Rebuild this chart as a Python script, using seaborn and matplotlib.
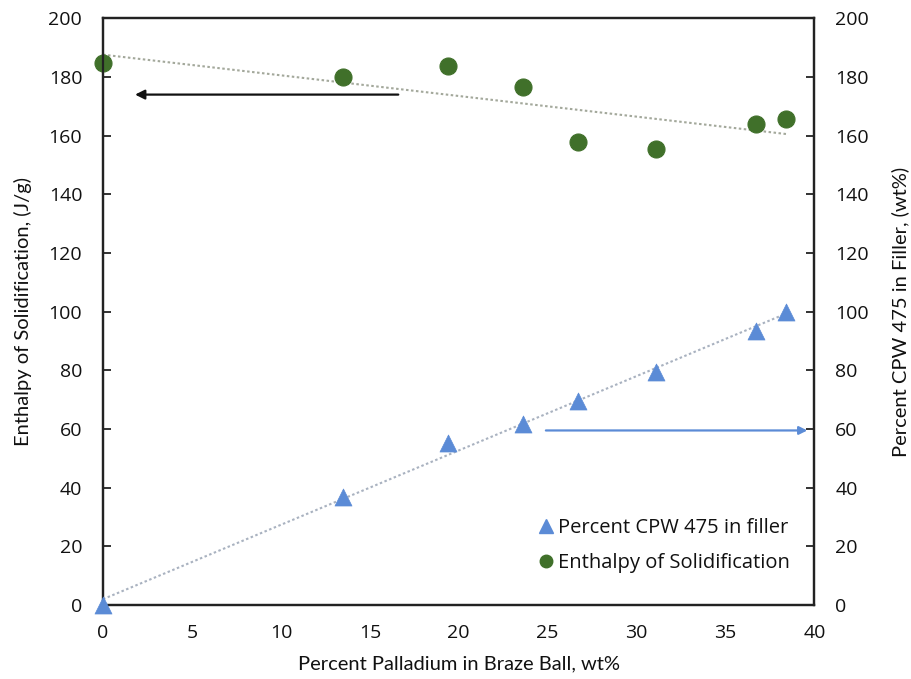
import numpy as np
import pandas as pd
import matplotlib
matplotlib.use("Agg")
import matplotlib.pyplot as plt
import seaborn as sns

# Measured data
pd_wt = [0.0, 13.5, 19.4, 23.6, 26.7, 31.1, 36.7, 38.4]
enthalpy = [184.7, 180.0, 183.6, 176.5, 157.8, 155.4, 163.9, 165.6]
cpw475 = [0.0, 36.8, 55.2, 61.7, 69.6, 79.5, 93.4, 99.8]

x_label = "Percent Palladium in Braze Ball, wt%"
left_label = "Enthalpy of Solidification, (J/g)"
right_label = "Percent CPW 475 in Filler, (wt%)"
cpw_name = "Percent CPW 475 in filler"
enth_name = "Enthalpy of Solidification"

green = "#40702a"
blue = "#5b8bd6"

sns.set_theme(style="white")
plt.rcParams["font.family"] = ["Open Sans", "DejaVu Sans"]

df = pd.DataFrame({"pd": pd_wt, "enthalpy": enthalpy, "cpw": cpw475})

fig = plt.figure(figsize=(9.12, 6.79), dpi=100)
ax = fig.add_axes([0.113, 0.109, 0.780, 0.864])
ax2 = ax.twinx()

# Linear trendlines
sns.regplot(data=df, x="pd", y="enthalpy", ax=ax, scatter=False, ci=None,
            truncate=True, line_kws=dict(color="#a3a89b", ls=(0, (1.2, 1.2)), lw=1.5))
sns.regplot(data=df, x="pd", y="cpw", ax=ax2, scatter=False, ci=None,
            truncate=True, line_kws=dict(color="#a9b2c0", ls=(0, (1.2, 1.2)), lw=1.5))

# Data points
sns.scatterplot(data=df, x="pd", y="enthalpy", ax=ax, color=green, marker="o",
                s=150, edgecolor=green, linewidth=0.8, zorder=5, clip_on=False)
sns.scatterplot(data=df, x="pd", y="cpw", ax=ax2, color=blue, marker="^",
                s=150, edgecolor=blue, linewidth=0.5, zorder=5, clip_on=False)

for a in (ax, ax2):
    a.set_xlim(0, 40)
    a.set_ylim(0, 200)
    a.set_yticks(np.arange(0, 201, 20))
    for s in a.spines.values():
        s.set_color("#222222")
        s.set_linewidth(1.6)

ax.set_xticks(np.arange(0, 41, 5))
ax.tick_params(axis="both", direction="in", length=6, width=1.3, color="#222222",
               labelsize=14, labelcolor="#111111", pad=15)
ax.tick_params(axis="x", pad=14)
ax2.tick_params(axis="y", direction="in", length=6, width=1.3, color="#222222",
                labelsize=14, labelcolor="#111111", pad=15)

label_font = dict(fontsize=14.5, family=["Lato", "DejaVu Sans"], color="#111111")
ax.set_xlabel(x_label, labelpad=9, **label_font)
ax.set_ylabel(left_label, labelpad=12, **label_font)
ax2.set_ylabel(right_label, labelpad=16, **label_font)

# Arrows pointing to each series' axis
ax.annotate("", xy=(1.8, 174), xytext=(16.6, 174),
            arrowprops=dict(arrowstyle="-|>", color="#111111", lw=1.6,
                            mutation_scale=14, shrinkA=0, shrinkB=0))
ax2.annotate("", xy=(39.6, 59.5), xytext=(24.9, 59.5),
             arrowprops=dict(arrowstyle="-|>", color=blue, lw=1.6,
                             mutation_scale=12, shrinkA=0, shrinkB=0))

handles = [
    plt.Line2D([], [], ls="", marker="^", color=blue, markersize=10),
    plt.Line2D([], [], ls="", marker="o", color=green, markersize=9),
]
leg = ax2.legend(handles, [cpw_name, enth_name], loc="lower right",
                 bbox_to_anchor=(0.966, 0.054), frameon=False, fontsize=14.5,
                 handletextpad=0.0, handlelength=1.2, labelspacing=0.75,
                 borderaxespad=0.0, borderpad=0.0)
for t in leg.get_texts():
    t.set_color("#111111")

fig.savefig("out.png", dpi=100, facecolor="white")
